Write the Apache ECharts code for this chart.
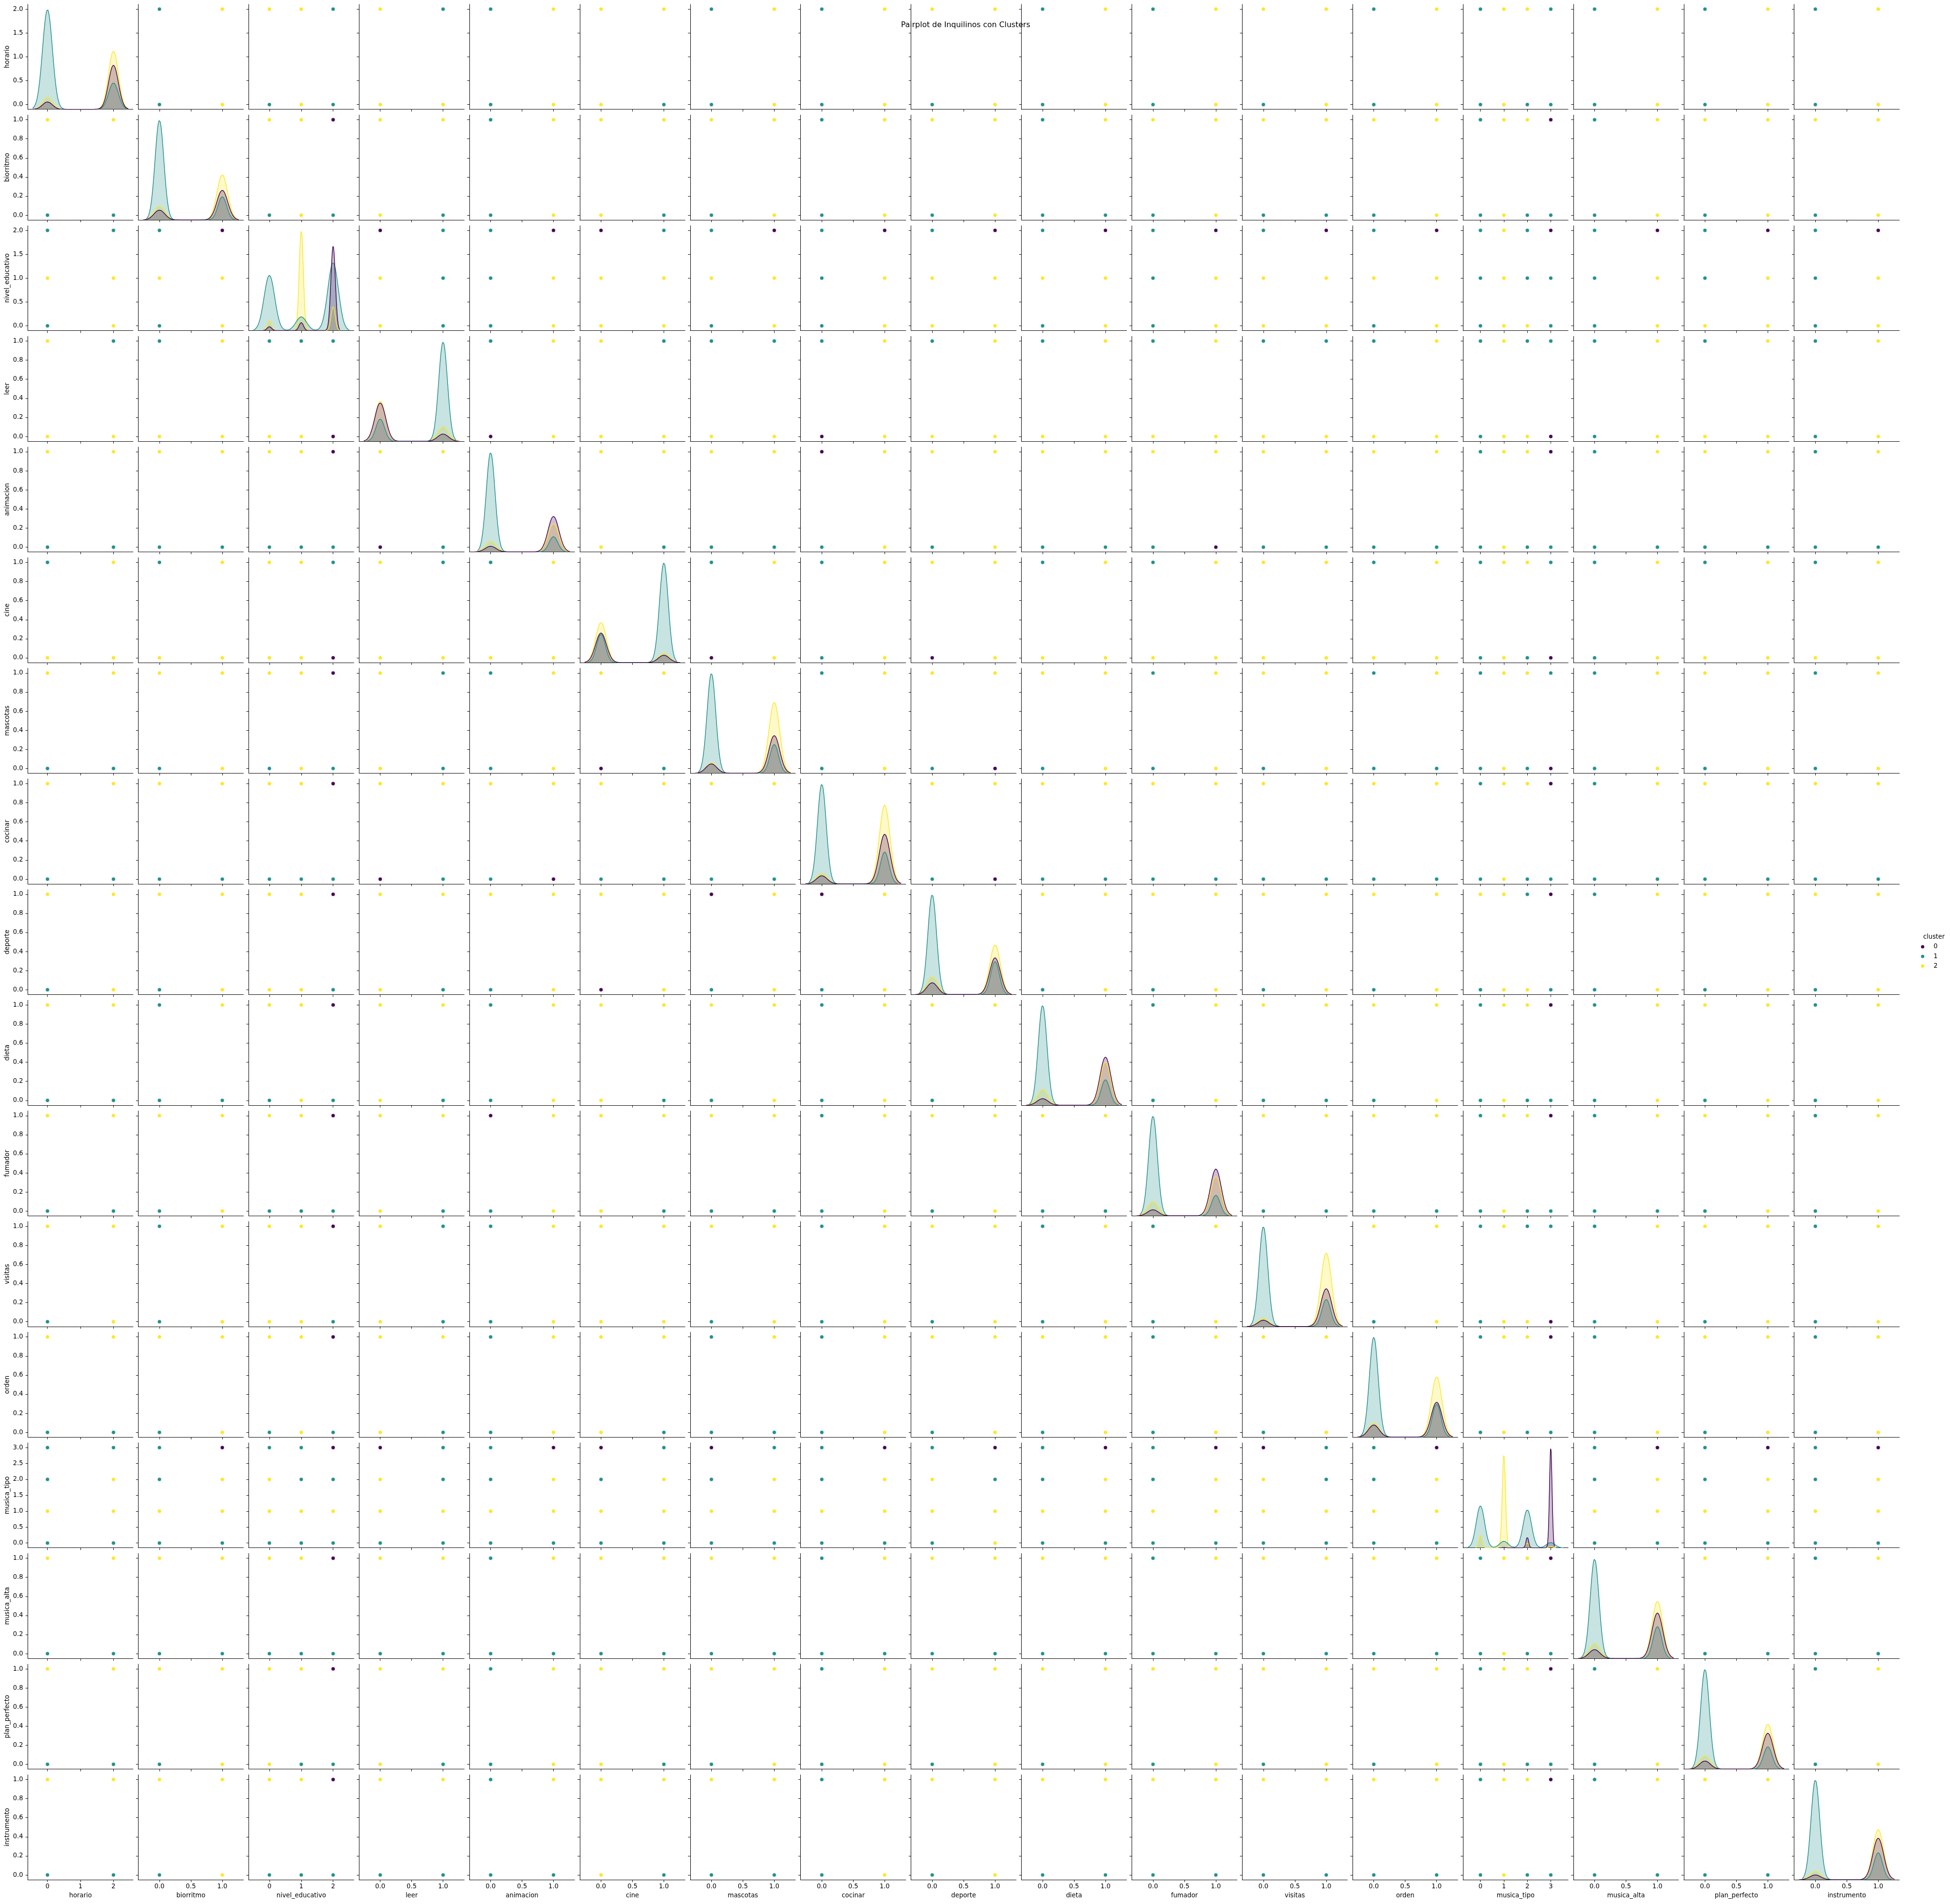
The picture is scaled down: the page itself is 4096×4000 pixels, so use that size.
<!DOCTYPE html>
<html><head><meta charset="utf-8">
<script src="https://cdn.jsdelivr.net/npm/echarts@6/dist/echarts.min.js"></script>
<style>html,body{margin:0;padding:0;background:#fff}#chart{width:4096px;height:4000px}</style>
</head><body><div id="chart"></div>
<script>
// ---------------- DATA ----------------
const variables = ['horario','biorritmo','nivel_educativo','leer','animacion','cine','mascotas','cocinar','deporte','dieta','fumador','visitas','orden','musica_tipo','musica_alta','plan_perfecto','instrumento'];
const variableValues = [[0,2],[0,1],[0,1,2],[0,1],[0,1],[0,1],[0,1],[0,1],[0,1],[0,1],[0,1],[0,1],[0,1],[0,1,2,3],[0,1],[0,1],[0,1]];
const clusterNames = ['0','1','2'];
const clusterColors = ['#440154','#21918c','#fde725'];
const chartTitle = 'Pairplot de Inquilinos con Clusters';
const legendTitle = 'cluster';

// tick labels
const xTicksBinary = [0, 0.5, 1];
const yTicksBinary = [0, 0.2, 0.4, 0.6, 0.8, 1];
const xTicksTo2 = [0, 1, 2];
const yTicksTo2 = [0, 0.5, 1, 1.5, 2];
const xTicksTo3 = [0, 1, 2, 3];
const yTicksTo3 = [0, 0.5, 1, 1.5, 2, 2.5, 3];

// Diagonal KDE: peak height (fraction of panel height) of each cluster at each distinct value
const kdePeakPurple = [[0.070,0.420],[0.094,0.283],[0.038,0.077,0.804],[0.365,0.069],[0.054,0.338],[0.282,0.070],[0.089,0.359],[0.077,0.473],[0.112,0.350],[0.062,0.458],[0.058,0.446],[0.060,0.360],[0.116,0.333],[0,0.003,0.102,0.952],[0.084,0.433],[0.077,0.342],[0.046,0.396]];
const kdePeakTeal = [[0.949,0.251],[0.950,0.221],[0.527,0.131,0.646],[0.212,0.946],[0.946,0.146],[0.270,0.950],[0.950,0.274],[0.950,0.304],[0.950,0.315],[0.950,0.242],[0.950,0.196],[0.950,0.258],[0.953,0.314],[0.398,0.062,0.361,0.050],[0.946,0.303],[0.950,0.212],[0.950,0.258]];
const kdePeakYellow = [[0.114,0.555],[0.130,0.430],[0.096,0.954,0.231],[0.381,0.138],[0.100,0.270],[0.382,0.090],[0.097,0.676],[0.100,0.750],[0.169,0.473],[0.150,0.410],[0.135,0.373],[0.080,0.700],[0.136,0.574],[0.120,0.882,0.045,0.013],[0.142,0.544],[0.127,0.427],[0.081,0.477]];
// KDE bandwidths per variable
const kdeSigmaPurple = [0.15,0.087,0.07,0.087,0.087,0.087,0.087,0.087,0.087,0.087,0.087,0.087,0.087,0.055,0.087,0.087,0.087];
const kdeSigmaTeal   = [0.15,0.07,0.167,0.07,0.07,0.07,0.07,0.07,0.07,0.07,0.07,0.07,0.07,0.18,0.07,0.07,0.07];
const kdeSigmaYellow = [0.15,0.085,0.065,0.085,0.085,0.085,0.085,0.085,0.085,0.085,0.085,0.085,0.085,0.07,0.085,0.085,0.085];

// Visible scatter colour (cluster id) per panel, upper triangle: row var vs each later column var.
// Rows of a string = y values from top to bottom, characters = x values from left to right.
const visHorario = ['12/12','221/121','21/22','12/12','22/21','12/12','12/12','22/12','12/12','12/12','22/12','12/12','1221/1211','12/12','12/12','12/12'];
const visBiorritmo = ['220/121','22/21','12/12','22/21','22/12','12/12','22/12','12/11','22/12','22/11','22/12','1220/1211','12/12','22/12','22/12'];
const visNivel = ['01/21/21','10/12/12','01/22/22','10/22/12','10/12/12','10/22/22','10/22/12','10/12/12','10/22/22','10/22/12','1210/1211/1221','10/12/12','10/12/22','10/12/12'];
const visLeer = ['12/02','21/22','11/22','12/02','12/22','12/22','12/22','11/22','12/22','1211/1220','12/12','12/22','12/12'];
const visAnimacion = ['22/21','22/11','02/12','22/12','22/11','22/10','22/11','22/11','1220/1211','12/11','22/11','12/11'];
const visCine = ['12/02','12/12','22/02','12/22','12/22','22/22','12/22','1221/1210','12/12','12/22','12/22'];
const visMascotas = ['12/12','22/10','22/12','12/12','22/12','12/11','1221/1210','12/12','22/12','12/12'];
const visCocinar = ['22/10','22/11','22/11','22/11','22/11','1220/1211','12/11','22/11','22/11'];
const visDeporte = ['22/12','22/12','22/12','22/12','2210/1221','12/12','22/12','22/12'];
const visDieta = ['12/12','22/11','22/12','1220/1211','12/12','22/12','12/12'];
const visFumador = ['22/11','22/11','1220/1211','12/11','22/12','12/12'];
const visVisitas = ['22/12','1211/1220','12/12','22/12','12/12'];
const visOrden = ['1220/1211','12/12','22/12','12/12'];
const visMusicaTipo = ['10/12/22/11','10/12/22/11','10/12/22/11'];
const visMusicaAlta = ['22/11','12/11'];
const visPlan = ['12/12'];
const scatterVisible = [visHorario,visBiorritmo,visNivel,visLeer,visAnimacion,visCine,visMascotas,visCocinar,visDeporte,visDieta,visFumador,visVisitas,visOrden,visMusicaTipo,visMusicaAlta,visPlan,[]];

// ---------------- LAYOUT ----------------
const S = 0.959;
const FONT = 'DejaVu Sans';
const FS = 13.3;
const L0 = 61 * S, COLSTEP = 241.8 * S, PW = 230.5 * S;
const T0 = 9.5 * S, ROWSTEP = 242.4 * S, PH = 230 * S;
const N = variables.length;

function vmax(i){ const v = variableValues[i]; return v[v.length-1]; }
function vmin(i){ return variableValues[i][0]; }
function xTicks(i){ const m = vmax(i); return m === 1 ? xTicksBinary : (m === 2 ? xTicksTo2 : xTicksTo3); }
function yTicks(i){ const m = vmax(i); return m === 1 ? yTicksBinary : (m === 2 ? yTicksTo2 : yTicksTo3); }
function xFmt(i){ return vmax(i) === 1 ? (v => (+v).toFixed(1)) : (v => String(Math.round(v))); }
function yRange(i){ const a = vmin(i), b = vmax(i), r = b - a; return [a - 0.05*r, b + 0.05*r]; }
function xRange(i){
  const sg = Math.max(kdeSigmaPurple[i], kdeSigmaTeal[i], kdeSigmaYellow[i]);
  const lo = vmin(i) - 3*sg, hi = vmax(i) + 3*sg, L = hi - lo;
  return [lo - 0.05*L, hi + 0.05*L];
}

const grids = [], xAxes = [], yAxes = [], series = [];
const lineStyleAxis = { color: '#000', width: 1.05 };

for (let i = 0; i < N; i++) {
  for (let j = 0; j < N; j++) {
    const k = i * N + j;
    grids.push({ left: L0 + j*COLSTEP, top: T0 + i*ROWSTEP, width: PW, height: PH });
    const bottom = (i === N - 1), left = (j === 0);
    const xr = xRange(j), yr = yRange(i);
    xAxes.push({
      type: 'value', gridIndex: k, min: xr[0], max: xr[1],
      axisLine: { show: true, onZero: false, lineStyle: lineStyleAxis },
      axisTick: { show: true, length: 4.7, lineStyle: lineStyleAxis, customValues: xTicks(j) },
      axisLabel: { show: bottom, customValues: xTicks(j), formatter: xFmt(j), fontSize: FS, color: '#000', fontFamily: FONT, margin: 8 },
      splitLine: { show: false },
      name: bottom ? variables[j] : '', nameLocation: 'middle', nameGap: 27,
      nameTextStyle: { fontSize: FS, color: '#000', fontFamily: FONT }
    });
    yAxes.push({
      type: 'value', gridIndex: k, min: yr[0], max: yr[1],
      axisLine: { show: true, onZero: false, lineStyle: lineStyleAxis },
      axisTick: { show: true, length: 4.7, lineStyle: lineStyleAxis, customValues: yTicks(i) },
      axisLabel: { show: left, customValues: yTicks(i), formatter: v => (+v).toFixed(1), fontSize: FS, color: '#000', fontFamily: FONT, margin: 10 },
      splitLine: { show: false },
      name: left ? variables[i] : '', nameLocation: 'middle', nameGap: 36,
      nameTextStyle: { fontSize: FS, color: '#000', fontFamily: FONT }
    });
  }
}
// hidden density axes for diagonal panels
for (let i = 0; i < N; i++) {
  yAxes.push({ type: 'value', gridIndex: i*N + i, min: 0, max: 1, show: false });
}

// scatter panels
function addScatter(k, xVar, yVar, code) {
  const rows = code.split('/');
  const yv = variableValues[yVar], xv = variableValues[xVar];
  const data = [];
  rows.forEach((row, r) => {
    const y = yv[yv.length - 1 - r];
    for (let c = 0; c < row.length; c++) {
      const cl = +row[c];
      data.push({ value: [xv[c], y], itemStyle: { color: clusterColors[cl] } });
    }
  });
  series.push({
    type: 'scatter', xAxisIndex: k, yAxisIndex: k, data: data, symbolSize: 8,
    itemStyle: { borderColor: '#fff', borderWidth: 0.6, opacity: 1 }, silent: true
  });
}
for (let i = 0; i < N; i++) {
  for (let j = i + 1; j < N; j++) {
    const code = scatterVisible[i][j - i - 1];
    addScatter(i*N + j, j, i, code);            // upper: x = var j, y = var i
    // lower (transposed): x = var i, y = var j
    const rows = code.split('/');
    const yvI = variableValues[i], xvJ = variableValues[j];
    const data = [];
    rows.forEach((row, r) => {
      const valI = yvI[yvI.length - 1 - r];
      for (let c = 0; c < row.length; c++) {
        data.push({ value: [valI, xvJ[c]], itemStyle: { color: clusterColors[+row[c]] } });
      }
    });
    series.push({
      type: 'scatter', xAxisIndex: j*N + i, yAxisIndex: j*N + i, data: data, symbolSize: 8,
      itemStyle: { borderColor: '#fff', borderWidth: 0.6, opacity: 1 }, silent: true
    });
  }
}

// diagonal KDEs (drawn yellow, teal, purple so the first cluster is on top)
const peakSets = [kdePeakPurple, kdePeakTeal, kdePeakYellow];
const sigmaSets = [kdeSigmaPurple, kdeSigmaTeal, kdeSigmaYellow];
for (let i = 0; i < N; i++) {
  const vals = variableValues[i];
  [2, 1, 0].forEach(c => {
    const peaks = peakSets[c][i], sg = sigmaSets[c][i];
    const present = vals.filter((v, q) => peaks[q] > 0);
    const lo = Math.min(...present) - 3*sg, hi = Math.max(...present) + 3*sg;
    const pts = [];
    const M = 500;
    for (let s = 0; s <= M; s++) {
      const x = lo + (hi - lo) * s / M;
      let h = 0;
      vals.forEach((v, q) => { h += peaks[q] * Math.exp(-((x - v) * (x - v)) / (2 * sg * sg)); });
      pts.push([x, h]);
    }
    series.push({
      type: 'line', name: clusterNames[c], xAxisIndex: i*N + i, yAxisIndex: N*N + i, data: pts,
      showSymbol: false, symbol: 'none', smooth: false, silent: true,
      lineStyle: { color: clusterColors[c], width: 1.5 },
      itemStyle: { color: clusterColors[c] },
      areaStyle: { color: clusterColors[c], opacity: 0.25 }
    });
  });
}
// legend entries
clusterNames.forEach((nm, c) => {
  series.push({ type: 'scatter', name: nm, xAxisIndex: 0, yAxisIndex: 0, data: [], itemStyle: { color: clusterColors[c] } });
});

const option = {
  animation: false,
  backgroundColor: '#fff',
  textStyle: { fontFamily: FONT },
  grid: grids, xAxis: xAxes, yAxis: yAxes, series: series,
  legend: {
    data: clusterNames, orient: 'vertical', left: 4035, top: 1982, padding: 0,
    itemWidth: 36, itemHeight: 7, itemGap: 6.3, icon: 'circle', selectedMode: false,
    textStyle: { fontSize: FS, color: '#000', fontFamily: FONT, lineHeight: 14 }
  },
  graphic: [
    { type: 'text', x: 2115 * S, y: 55 * S, style: { text: chartTitle, fontSize: 16, fontFamily: FONT, fill: '#000', textAlign: 'center', textVerticalAlign: 'middle' } },
    { type: 'text', x: 4236 * S, y: 2053 * S, style: { text: legendTitle, fontSize: FS, fontFamily: FONT, fill: '#000', textAlign: 'center', textVerticalAlign: 'middle' } }
  ]
};
const chart = echarts.init(document.getElementById('chart'), null, { renderer: 'canvas', width: 4096, height: 4000 });
chart.setOption(option);
</script>
</body></html>
